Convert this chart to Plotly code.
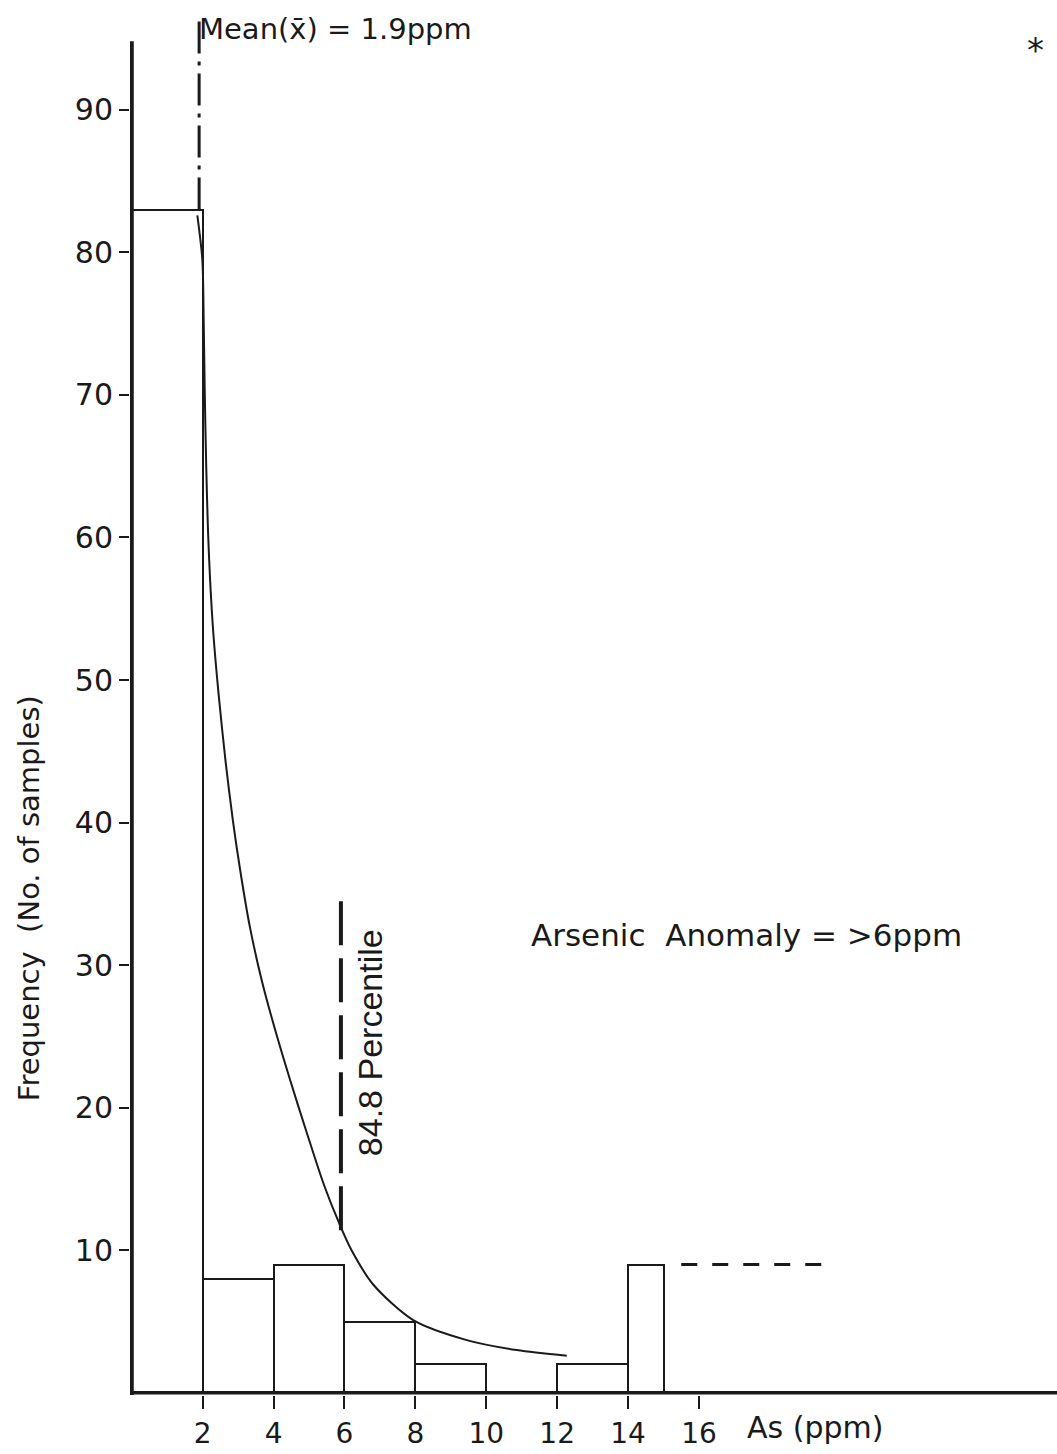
import plotly.graph_objects as go

# ---- data ----
bin_left = [0, 2, 4, 6, 8, 12, 14]
bin_right = [2, 4, 6, 8, 10, 14, 15]
counts = [83, 8, 9, 5, 2, 2, 9]

curve_x = [1.85, 1.99, 2.03, 2.06, 2.10, 2.15, 2.21, 2.30, 2.45, 2.65, 2.85, 3.05, 3.33,
           3.66, 4.04, 4.46, 4.93, 5.42, 5.85, 6.2, 6.81, 7.94, 9.45, 10.86, 12.27]
curve_y = [82.6, 79.5, 75, 70, 65, 60.5, 57, 53.3, 49.0, 44.2, 40.2, 36.8, 32.7,
           29.0, 25.5, 22.0, 18.3, 14.6, 11.9, 10.0, 7.6, 5.1, 3.7, 3.0, 2.6]

mean_x = 1.9
mean_line_y = [83, 96.3]
pct_x = 5.9
pct_line_y = [11.4, 34.6]
anom_line_x = [15.5, 19.5]
anom_line_y = 9

x_ticks = [2, 4, 6, 8, 10, 12, 14, 16]
y_ticks = [10, 20, 30, 40, 50, 60, 70, 80, 90]

INK = "#1a1a1a"
FONT = "DejaVu Sans"

centers = [(l + r) / 2 for l, r in zip(bin_left, bin_right)]
widths = [r - l for l, r in zip(bin_left, bin_right)]

fig = go.Figure()

fig.add_trace(go.Bar(
    x=centers, y=counts, width=widths,
    marker=dict(color="white", line=dict(color=INK, width=2)),
    hoverinfo="skip", showlegend=False,
))

fig.add_trace(go.Scatter(
    x=curve_x, y=curve_y, mode="lines",
    line=dict(color=INK, width=2, shape="spline", smoothing=0.8),
    showlegend=False, hoverinfo="skip",
))

fig.add_trace(go.Scatter(
    x=[mean_x, mean_x], y=mean_line_y, mode="lines",
    line=dict(color=INK, width=3, dash="32px,8px,4px,8px"),
    showlegend=False, hoverinfo="skip",
))

fig.add_trace(go.Scatter(
    x=[pct_x, pct_x], y=pct_line_y, mode="lines",
    line=dict(color=INK, width=4, dash="44px,13px"),
    showlegend=False, hoverinfo="skip",
))

fig.add_trace(go.Scatter(
    x=anom_line_x, y=[anom_line_y, anom_line_y], mode="lines",
    line=dict(color=INK, width=3, dash="16px,15px"),
    showlegend=False, hoverinfo="skip",
))

# axis lines
fig.add_shape(type="line", x0=0, x1=0, y0=-0.15, y1=94.8, xref="x", yref="y",
              line=dict(color=INK, width=4), layer="above")
fig.add_shape(type="line", x0=0, x1=26.1, y0=0, y1=0, xref="x", yref="y",
              line=dict(color=INK, width=3.5), layer="above")

annotations = [
    dict(x=mean_x - 0.05, y=95.7, xref="x", yref="y", text="Mean(x̄) = 1.9ppm",
         showarrow=False, xanchor="left", yanchor="middle",
         font=dict(family=FONT, size=29, color=INK)),
    dict(x=6.72, y=24.6, xref="x", yref="y", text="84.8 Percentile",
         showarrow=False, textangle=-90, xanchor="center", yanchor="middle",
         font=dict(family="Liberation Sans", size=34, color=INK)),
    dict(x=17.33, y=32.1, xref="x", yref="y", text="Arsenic  Anomaly = >6ppm",
         showarrow=False, xanchor="center", yanchor="middle",
         font=dict(family=FONT, size=31, color=INK)),
    dict(x=17.3, y=0, xref="x", yref="y", yshift=-35, text="As (ppm)",
         showarrow=False, xanchor="left", yanchor="middle",
         font=dict(family=FONT, size=30, color=INK)),
    dict(x=25.5, y=94.2, xref="x", yref="y", text="*",
         showarrow=False, xanchor="center", yanchor="middle",
         font=dict(family=FONT, size=34, color=INK)),
    dict(x=-0.109, y=34.7, xref="paper", yref="y", text="Frequency  (No. of samples)",
         showarrow=False, textangle=-90, xanchor="center", yanchor="middle",
         font=dict(family=FONT, size=29, color=INK)),
]

fig.update_layout(
    width=1057, height=1454,
    margin=dict(l=130, r=0, t=10, b=59),
    paper_bgcolor="white", plot_bgcolor="white",
    bargap=0,
    annotations=annotations,
    xaxis=dict(range=[-0.05, 26.1], tickvals=x_ticks, ticktext=[str(v) for v in x_ticks],
               ticks="outside", ticklen=13, tickwidth=2, tickcolor=INK,
               showgrid=False, zeroline=False, showline=False,
               tickfont=dict(family=FONT, size=28, color=INK)),
    yaxis=dict(range=[-0.15, 97], tickvals=y_ticks, ticktext=[str(v) for v in y_ticks],
               ticks="outside", ticklen=10, tickwidth=2, tickcolor=INK,
               showgrid=False, zeroline=False, showline=False,
               tickfont=dict(family=FONT, size=30, color=INK)),
)

fig.write_html("out.html")
